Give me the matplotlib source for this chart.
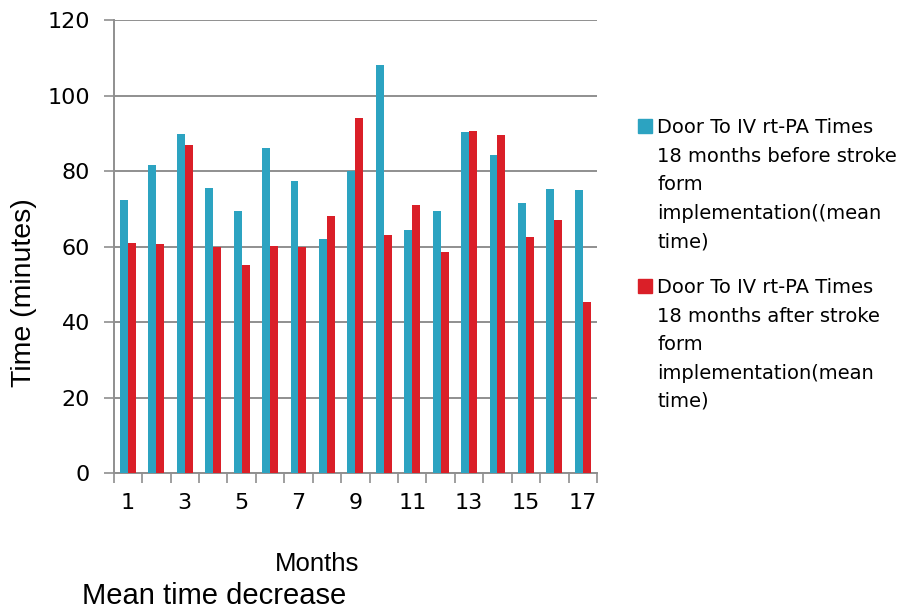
import numpy as np
import matplotlib
matplotlib.use("Agg")
from matplotlib import pyplot as plt
from matplotlib.patches import Rectangle

months = list(range(1, 18))
before = [72.4, 81.5, 89.9, 75.5, 69.5, 86.2, 77.4, 62.0, 80.0, 108.0,
          64.4, 69.5, 90.4, 84.2, 71.6, 75.2, 75.0]
after = [60.9, 60.7, 86.8, 59.9, 55.2, 60.2, 59.9, 68.2, 94.1, 63.0,
         71.0, 58.5, 90.7, 89.7, 62.6, 67.1, 45.3]
yticks = [0, 20, 40, 60, 80, 100, 120]
label_before = "Door To IV rt-PA Times\n18 months before stroke\nform\nimplementation((mean\ntime)"
label_after = "Door To IV rt-PA Times\n18 months after stroke\nform\nimplementation(mean\ntime)"

blue = "#2ca3c1"
red = "#da1f28"
gray = "#8f8f8f"

fig = plt.figure(figsize=(9.17, 6.09), dpi=100)
ax = fig.add_axes([0.124, 0.223, 0.527, 0.744])

x = np.arange(len(months))
w = 0.28
ax.bar(x - w / 2, before, w, color=blue, zorder=3)
ax.bar(x + w / 2, after, w, color=red, zorder=3)

ax.set_xlim(-0.5, len(months) - 0.5)
ax.set_ylim(0, 120)
ax.set_yticks(yticks)
ax.yaxis.grid(True, color=gray, lw=1.4, zorder=0)
ax.tick_params(axis="y", length=7, width=1.2, color=gray, pad=10,
               labelsize=16)

# labels at centres, tick marks at boundaries between months
ax.set_xticks(x[::2])
ax.set_xticklabels([str(m) for m in months[::2]])
ax.set_xticks(np.arange(-0.5, len(months)), minor=True)
ax.tick_params(axis="x", which="major", length=0, pad=14, labelsize=16)
ax.tick_params(axis="x", which="minor", length=7, width=1.2, color=gray)

for s in ["top", "right"]:
    ax.spines[s].set_visible(False)
for s in ["left", "bottom"]:
    ax.spines[s].set_color(gray)
    ax.spines[s].set_linewidth(1.4)

fig.text(0.026, 0.52, "Time (minutes)", rotation=90, ha="center",
         va="center", family="Liberation Sans", fontsize=20.5)
fig.text(0.346, 0.074, "Months", ha="center", va="center",
         family="Liberation Sans", fontsize=18.5)
fig.text(0.089, 0.021, "Mean time decrease", ha="left", va="center",
         family="Liberation Sans", fontsize=21)

# legend
for y0, col, lab in [(0.7816, blue, label_before), (0.5189, red, label_after)]:
    fig.patches.append(Rectangle((0.6957, y0), 0.0153, 0.023, color=col,
                                 transform=fig.transFigure, figure=fig))
    fig.text(0.7165, y0 + 0.0243, lab, ha="left", va="top", fontsize=14,
             linespacing=1.63)

fig.savefig("out.png", dpi=100)
